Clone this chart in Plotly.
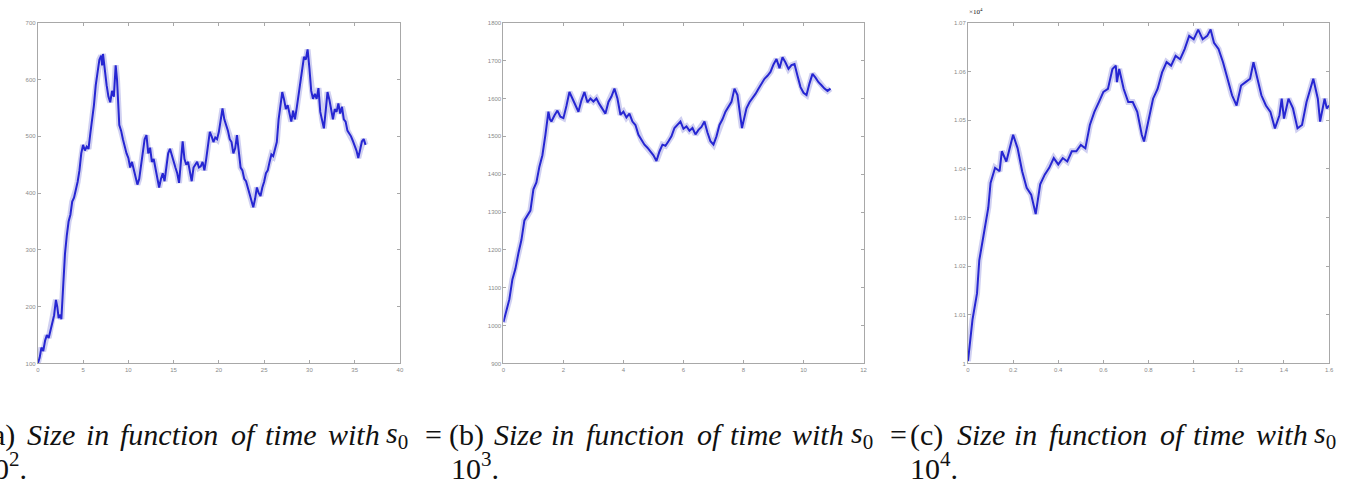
import plotly.graph_objects as go

# ---------------- data ----------------
t_a = [0, 0.2, 0.4, 0.6, 0.8, 1.0, 1.2, 1.4, 1.6, 1.8, 2.0, 2.15, 2.3, 2.5, 2.6, 2.8, 3.0,
       3.2, 3.4, 3.6, 3.8, 4.0, 4.2, 4.4, 4.6, 4.8, 5.0, 5.2, 5.4, 5.6, 5.8, 6.0, 6.2, 6.4,
       6.6, 6.8, 7.0, 7.1, 7.2, 7.4, 7.6, 7.8, 8.0, 8.2, 8.4, 8.6, 8.75, 9.0, 9.2, 9.4, 9.6,
       9.8, 10.0, 10.2, 10.4, 10.6, 10.8, 11.0, 11.2, 11.4, 11.6, 11.8, 12.0, 12.2, 12.4,
       12.6, 12.8, 13.0, 13.2, 13.4, 13.6, 13.8, 14.0, 14.2, 14.4, 14.6, 14.8, 15.0, 15.2,
       15.4, 15.6, 15.8, 16.0, 16.2, 16.4, 16.6, 16.8, 17.0, 17.2, 17.4, 17.6, 17.8, 18.0,
       18.2, 18.4, 18.6, 18.8, 19.0, 19.2, 19.4, 19.6, 19.8, 20.0, 20.2, 20.4, 20.6, 20.8,
       21.0, 21.2, 21.4, 21.6, 21.8, 22.0, 22.2, 22.4, 22.6, 22.8, 23.0, 23.2, 23.4, 23.6,
       23.8, 24.0, 24.2, 24.4, 24.6, 24.8, 25.0, 25.2, 25.4, 25.6, 25.8, 26.0, 26.2, 26.4,
       26.6, 26.8, 27.0, 27.2, 27.4, 27.6, 27.8, 28.0, 28.2, 28.4, 28.6, 28.8, 29.0, 29.2,
       29.4, 29.6, 29.8, 30.0, 30.2, 30.4, 30.6, 30.8, 31.0, 31.2, 31.4, 31.6, 31.8, 32.0,
       32.2, 32.4, 32.6, 32.8, 33.0, 33.2, 33.4, 33.6, 33.8, 34.0, 34.2, 34.4, 34.6, 34.8,
       35.0, 35.2, 35.4, 35.6, 35.8, 36.0, 36.2]
s_a = [100, 110, 128, 122, 140, 150, 145, 160, 175, 185, 212, 200, 180, 186, 178, 240, 293,
       325, 350, 362, 385, 392, 405, 420, 440, 470, 485, 475, 482, 478, 505, 526, 555, 590,
       612, 635, 642, 625, 645, 615, 590, 570, 560, 580, 570, 625, 600, 520, 510, 495, 480,
       470, 462, 445, 455, 440, 425, 415, 425, 450, 480, 495, 502, 470, 480, 455, 460, 444,
       430, 410, 425, 435, 421, 445, 470, 478, 465, 456, 445, 435, 418, 455, 491, 460, 450,
       455, 440, 421, 445, 450, 455, 445, 447, 455, 440, 460, 490, 508, 500, 490, 498, 495,
       508, 530, 549, 530, 520, 510, 495, 490, 470, 479, 502, 470, 445, 440, 425, 421, 410,
       395, 385, 375, 390, 410, 400, 395, 410, 420, 435, 440, 455, 468, 465, 480, 490, 530,
       560, 578, 565, 548, 555, 540, 526, 545, 530, 550, 575, 596, 620, 640, 635, 653, 620,
       580, 566, 575, 566, 585, 543, 530, 514, 545, 578, 565, 545, 530, 548, 543, 558, 540,
       552, 530, 526, 510, 505, 500, 492, 485, 475, 462, 475, 491, 495, 485]

t_b = [0, 0.1, 0.2, 0.3, 0.4, 0.5, 0.6, 0.7, 0.8, 0.9, 1.0, 1.1, 1.2, 1.3, 1.4, 1.5, 1.55,
       1.6, 1.7, 1.8, 1.9, 2.0, 2.1, 2.2, 2.3, 2.4, 2.5, 2.6, 2.7, 2.8, 2.9, 3.0, 3.1, 3.2,
       3.3, 3.4, 3.5, 3.6, 3.7, 3.8, 3.9, 4.0, 4.1, 4.2, 4.3, 4.4, 4.5, 4.6, 4.7, 4.8, 4.9,
       5.0, 5.1, 5.2, 5.3, 5.4, 5.5, 5.6, 5.7, 5.8, 5.9, 6.0, 6.1, 6.2, 6.3, 6.4, 6.5, 6.6,
       6.7, 6.8, 6.9, 7.0, 7.1, 7.2, 7.3, 7.4, 7.5, 7.6, 7.7, 7.8, 7.9, 7.95, 8.0, 8.1, 8.2,
       8.3, 8.4, 8.5, 8.6, 8.7, 8.8, 8.9, 9.0, 9.1, 9.2, 9.3, 9.4, 9.5, 9.6, 9.7, 9.8, 9.9,
       10.0, 10.1, 10.2, 10.3, 10.4, 10.5, 10.6, 10.7, 10.8, 10.9]
s_b = [1009, 1040, 1070, 1122, 1150, 1191, 1226, 1278, 1290, 1304, 1360, 1378, 1420, 1450,
       1504, 1565, 1545, 1539, 1555, 1568, 1552, 1548, 1580, 1617, 1600, 1583, 1565, 1595,
       1617, 1590, 1600, 1592, 1600, 1585, 1574, 1560, 1591, 1605, 1626, 1600, 1557, 1565,
       1550, 1560, 1539, 1530, 1504, 1490, 1478, 1470, 1461, 1450, 1435, 1460, 1478, 1475,
       1487, 1500, 1522, 1530, 1539, 1520, 1526, 1515, 1522, 1505, 1517, 1525, 1539, 1510,
       1487, 1478, 1500, 1530, 1545, 1565, 1580, 1591, 1626, 1609, 1550, 1522, 1540, 1574,
       1590, 1600, 1612, 1626, 1640, 1652, 1660, 1670, 1690, 1704, 1680, 1709, 1695, 1678,
       1688, 1691, 1660, 1630, 1615, 1609, 1640, 1665, 1655, 1643, 1635, 1626, 1620, 1626]

t_c = [0, 0.01, 0.02, 0.04, 0.05, 0.07, 0.09, 0.1, 0.12, 0.14, 0.15, 0.17, 0.2, 0.22,
       0.24, 0.26, 0.28, 0.3, 0.32, 0.34, 0.36, 0.38, 0.4, 0.42, 0.44, 0.46, 0.48, 0.5,
       0.52, 0.54, 0.56, 0.58, 0.6, 0.62, 0.64, 0.655, 0.66, 0.67, 0.69, 0.71, 0.73,
       0.75, 0.77, 0.78, 0.8, 0.82, 0.84, 0.86, 0.88, 0.9, 0.92, 0.94, 0.96, 0.98, 1.0,
       1.02, 1.04, 1.06, 1.075, 1.09, 1.11, 1.13, 1.15, 1.17, 1.19, 1.21, 1.23, 1.25,
       1.265, 1.28, 1.3, 1.32, 1.34, 1.36, 1.38, 1.39, 1.4, 1.42, 1.44, 1.46, 1.48, 1.5,
       1.52, 1.53, 1.55, 1.56, 1.58, 1.59, 1.6]
s_c = [10005, 10056, 10090, 10144, 10212, 10266, 10320, 10371, 10402, 10395, 10436,
       10415, 10470, 10442, 10395, 10361, 10347, 10307, 10368, 10388, 10402, 10422,
       10409, 10422, 10415, 10436, 10436, 10449, 10442, 10490, 10517, 10537, 10558,
       10564, 10605, 10612, 10578, 10605, 10564, 10537, 10537, 10517, 10470, 10456,
       10503, 10544, 10564, 10598, 10619, 10612, 10632, 10625, 10646, 10673, 10666,
       10686, 10666, 10673, 10686, 10659, 10646, 10619, 10585, 10551, 10530, 10571,
       10578, 10585, 10619, 10591, 10551, 10530, 10517, 10483, 10510, 10544, 10503,
       10544, 10524, 10483, 10490, 10537, 10571, 10585, 10544, 10497, 10544, 10524,
       10530]

xticks_a = [0, 5, 10, 15, 20, 25, 30, 35, 40]
yticks_a = [100, 200, 300, 400, 500, 600, 700]
xticks_b = [0, 2, 4, 6, 8, 10, 12]
yticks_b = [900, 1000, 1100, 1200, 1300, 1400, 1500, 1600, 1700, 1800]
xticks_c = [0, 0.2, 0.4, 0.6, 0.8, 1.0, 1.2, 1.4, 1.6]
xlabels_c = ["0", "0.2", "0.4", "0.6", "0.8", "1", "1.2", "1.4", "1.6"]
yticks_c = [1.00, 1.01, 1.02, 1.03, 1.04, 1.05, 1.06, 1.07]
ylabels_c = ["1", "1.01", "1.02", "1.03", "1.04", "1.05", "1.06", "1.07"]
scale_c = 1e4

caption_words = ["<i>Size</i>", "<i>in</i>", "<i>function</i>", "<i>of</i>",
                 "<i>time</i>", "<i>with</i>", "<i>s</i><sub>0</sub>"]

# ---------------- figure ----------------
W, H = 1354, 486
fig = go.Figure()

panels = [
    dict(t=t_a, s=s_a, xr=[0, 40], yr=[100, 700], xt=xticks_a, xl=[str(v) for v in xticks_a],
         yt=yticks_a, yl=[str(v) for v in yticks_a], px=(36, 400), k=1.0),
    dict(t=t_b, s=s_b, xr=[0, 12], yr=[900, 1800], xt=xticks_b, xl=[str(v) for v in xticks_b],
         yt=yticks_b, yl=[str(v) for v in yticks_b], px=(504, 866), k=1.0),
    dict(t=t_c, s=s_c, xr=[0, 1.6], yr=[1.0, 1.07], xt=xticks_c, xl=xlabels_c,
         yt=yticks_c, yl=ylabels_c, px=(971, 1334), k=scale_c),
]
top_px, bot_px = 20, 365
ydom = [1 - bot_px / H, 1 - top_px / H]

axis_style = dict(showline=True, linecolor="#a8a8a8", linewidth=1, mirror="ticks",
                  ticks="inside", ticklen=3, tickcolor="#a8a8a8", showgrid=False,
                  zeroline=False, tickfont=dict(family="Liberation Sans", size=6, color="#8a8a8a"))

layout = dict(width=W, height=H, margin=dict(l=0, r=0, t=0, b=0),
              paper_bgcolor="white", plot_bgcolor="white", showlegend=False)

for i, p in enumerate(panels):
    n = "" if i == 0 else str(i + 1)
    ys = [v / p["k"] for v in p["s"]]
    fig.add_trace(go.Scatter(x=p["t"], y=ys, mode="lines", xaxis="x" + n, yaxis="y" + n,
                             line=dict(color="rgba(100,100,210,0.30)", width=6), hoverinfo="skip"))
    fig.add_trace(go.Scatter(x=p["t"], y=ys, mode="lines", xaxis="x" + n, yaxis="y" + n,
                             line=dict(color="#2626d2", width=2)))
    layout["xaxis" + n] = dict(domain=[p["px"][0] / W, p["px"][1] / W], range=p["xr"],
                               tickvals=p["xt"], ticktext=p["xl"], anchor="y" + n, **axis_style)
    layout["yaxis" + n] = dict(domain=ydom, range=p["yr"], tickvals=p["yt"], ticktext=p["yl"],
                               anchor="x" + n, **axis_style)

fig.update_layout(**layout)

def ann(text, xpx, ypx, size=30, anchor="left"):
    fig.add_annotation(text=text, x=xpx / W, y=1 - ypx / H, xref="paper", yref="paper",
                       xanchor=anchor, yanchor="middle", showarrow=False,
                       font=dict(family="Liberation Serif", size=size, color="#111111"))

# x10^4 multiplier
ann("×10<sup>4</sup>", 970, 9, size=7)

# caption word positions (left edges, px)
word_x = [
    [23, 82, 117, 228, 262, 326, 384],
    [493, 550, 585, 697, 730, 792, 851],
    [958, 1015, 1050, 1162, 1195, 1259, 1317],
]
labels = ["(a)", "(b)", "(c)"]
label_x = [-22, 447, 911]
line1_y, line2_y = 437, 469
for j in range(3):
    ann(labels[j], label_x[j], line1_y)
    for w, xx in zip(caption_words, word_x[j]):
        ann(w, xx, line1_y)
ann("=", 423, line1_y)
ann("=", 891, line1_y)
ann("10<sup>2</sup>.", -25, line2_y)
ann("10<sup>3</sup>.", 449, line2_y)
ann("10<sup>4</sup>.", 911, line2_y)

fig.write_html("out.html")
